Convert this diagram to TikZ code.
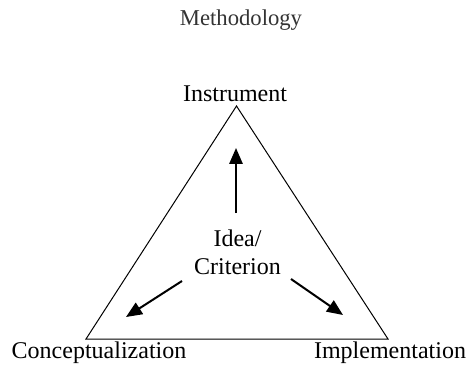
\documentclass[tikz,border=0pt]{standalone}
\usepackage{fontspec}
\setmainfont{Liberation Serif}
\usepackage{tikz}
\usetikzlibrary{arrows.meta,positioning}

\tikzset{
	lbl/.style={inner sep=0pt, font=\fontsize{18pt}{21pt}\selectfont},
	pointer/.style={line width=1.5pt, -{Triangle[length=12pt, width=10pt]}}
}

\begin{document}
\begin{tikzpicture}[x=0.75pt, y=-0.75pt]
		\useasboundingbox (0,0) rectangle (471,367);
		% Title
		\node[lbl, anchor=base, text=black!80, font=\fontsize{17pt}{20pt}\selectfont] at (241,26) (title) {Methodology};
		% Triangle
		\coordinate (top) at (236.5,106);
		\coordinate (left) at (86,339);
		\coordinate (right) at (388,339);
		\draw[line width=0.75pt] (top) -- (left) -- (right) -- cycle;
		% Corners
		\node[lbl, anchor=base] at (235,102) (instr) {Instrument};
		\node[lbl, anchor=base] at (99,358) (concept) {Conceptualization};
		\node[lbl, anchor=base] at (390,358) (impl) {Implementation};
		% Centre
		\node[lbl, align=center] at (237.5,252) (idea) {Idea/\\Criterion};
		\coordinate (upend) at (236,213);
		\coordinate (uptip) at (236,148);
		\coordinate (lend) at (182,281);
		\coordinate (ltip) at (126,317);
		\coordinate (rend) at (291,279);
		\coordinate (rtip) at (343,315);
		% Arrows
		\draw[pointer] (upend) -- (uptip);
		\draw[pointer] (lend) -- (ltip);
		\draw[pointer] (rend) -- (rtip);
	\end{tikzpicture}
\end{document}
